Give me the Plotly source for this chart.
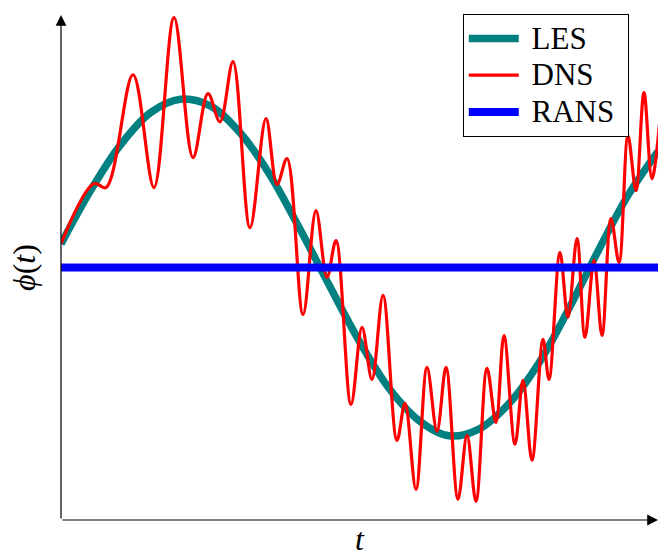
import plotly.graph_objects as go

# LES (smooth large-scale signal)
les_t = [0.0, 0.5, 1.0, 1.5, 2.0, 2.5, 3.0, 3.5, 4.0, 4.5, 5.0, 5.5, 6.0, 6.5, 7.0, 7.5, 8.0, 8.5, 9.0, 9.5, 10.0]
les_phi = [0.14, 0.46, 0.73, 0.92, 1.00, 0.96, 0.80, 0.55, 0.23, -0.11, -0.44, -0.72, -0.91, -1.00, -0.96, -0.81, -0.57, -0.25, 0.10, 0.43, 0.69]

# DNS (fully resolved signal) – extrema
dns_t = [0.00, 0.553, 0.754, 1.206, 1.558, 1.893, 2.211, 2.462, 2.663, 2.881,
         3.166, 3.434, 3.618, 3.786, 4.054, 4.271, 4.456, 4.606, 4.858, 5.042,
         5.209, 5.394, 5.628, 5.762, 5.946, 6.131, 6.298, 6.449, 6.650, 6.801,
         6.951, 7.136, 7.286, 7.420, 7.605, 7.739, 7.889, 8.074, 8.174, 8.358,
         8.492, 8.643, 8.777, 8.928, 9.062, 9.213, 9.347, 9.497, 9.631, 9.765,
         9.899, 10.08]
dns_phi = [0.142, 0.499, 0.475, 1.145, 0.475, 1.484, 0.653, 1.033, 0.866, 1.223,
           0.237, 0.884, 0.493, 0.647, -0.279, 0.338, -0.059, 0.160, -0.813, -0.356,
           -0.665, -0.166, -1.027, -0.807, -1.318, -0.593, -0.973, -0.593, -1.377, -0.997,
           -1.389, -0.599, -0.920, -0.404, -1.050, -0.671, -1.145, -0.427, -0.665, 0.089,
           -0.297, 0.172, -0.415, 0.042, -0.404, 0.291, 0.030, 0.783, 0.457, 1.039,
           0.528, 1.08]

# RANS (mean value)
rans_t = [0.0, 10.0]
rans_phi = [0.0, 0.0]

names = ["LES", "DNS", "RANS"]

t_range = [0, 10]
phi_range = [-1.5, 1.5]


def big(s):
    return '<span style="font-size:31px">\u00a0' + s + '\u00a0</span>'


fig = go.Figure()
fig.add_trace(go.Scatter(x=les_t, y=les_phi, mode="lines", name=big(names[0]),
                         line=dict(color="#008080", width=7.5, shape="spline", smoothing=1.0)))
fig.add_trace(go.Scatter(x=dns_t, y=dns_phi, mode="lines", name=big(names[1]),
                         line=dict(color="#ff0000", width=3.2, shape="spline", smoothing=1.0)))
fig.add_trace(go.Scatter(x=rans_t, y=rans_phi, mode="lines", name=big(names[2]),
                         line=dict(color="#0000ff", width=8)))

# axes drawn as arrows
fig.add_annotation(x=t_range[0], y=phi_range[1], ax=t_range[0], ay=phi_range[0],
                   xref="x", yref="y", axref="x", ayref="y", text="",
                   showarrow=True, arrowhead=2, arrowsize=1.8, arrowwidth=1.2,
                   arrowcolor="black", standoff=0, startstandoff=0)
fig.add_annotation(x=t_range[1], y=phi_range[0], ax=t_range[0], ay=phi_range[0],
                   xref="x", yref="y", axref="x", ayref="y", text="",
                   showarrow=True, arrowhead=2, arrowsize=1.8, arrowwidth=1.2,
                   arrowcolor="black", standoff=0, startstandoff=0)

serif = "Liberation Serif, Times New Roman, serif"
fig.update_layout(
    width=658, height=557,
    margin=dict(l=61, r=0, t=15, b=37),
    plot_bgcolor="white", paper_bgcolor="white",
    font=dict(family=serif, size=28, color="black"),
    showlegend=True,
    legend=dict(x=0.673, y=1.002, xanchor="left", yanchor="top",
                bgcolor="white", bordercolor="black", borderwidth=1,
                itemwidth=50,
                font=dict(family=serif, size=26, color="black")),
    xaxis=dict(range=t_range, showgrid=False, zeroline=False, showline=False,
               showticklabels=False, ticks="",
               title=dict(text="<i>t</i>", standoff=15, font=dict(size=32))),
    yaxis=dict(range=phi_range, showgrid=False, zeroline=False, showline=False,
               showticklabels=False, ticks="",
               title=dict(text="<i>ϕ</i>(<i>t</i>)", standoff=14, font=dict(size=32))),
)

fig.write_html("out.html", config={"displayModeBar": False},
               post_script="document.body.style.margin='0px';")
